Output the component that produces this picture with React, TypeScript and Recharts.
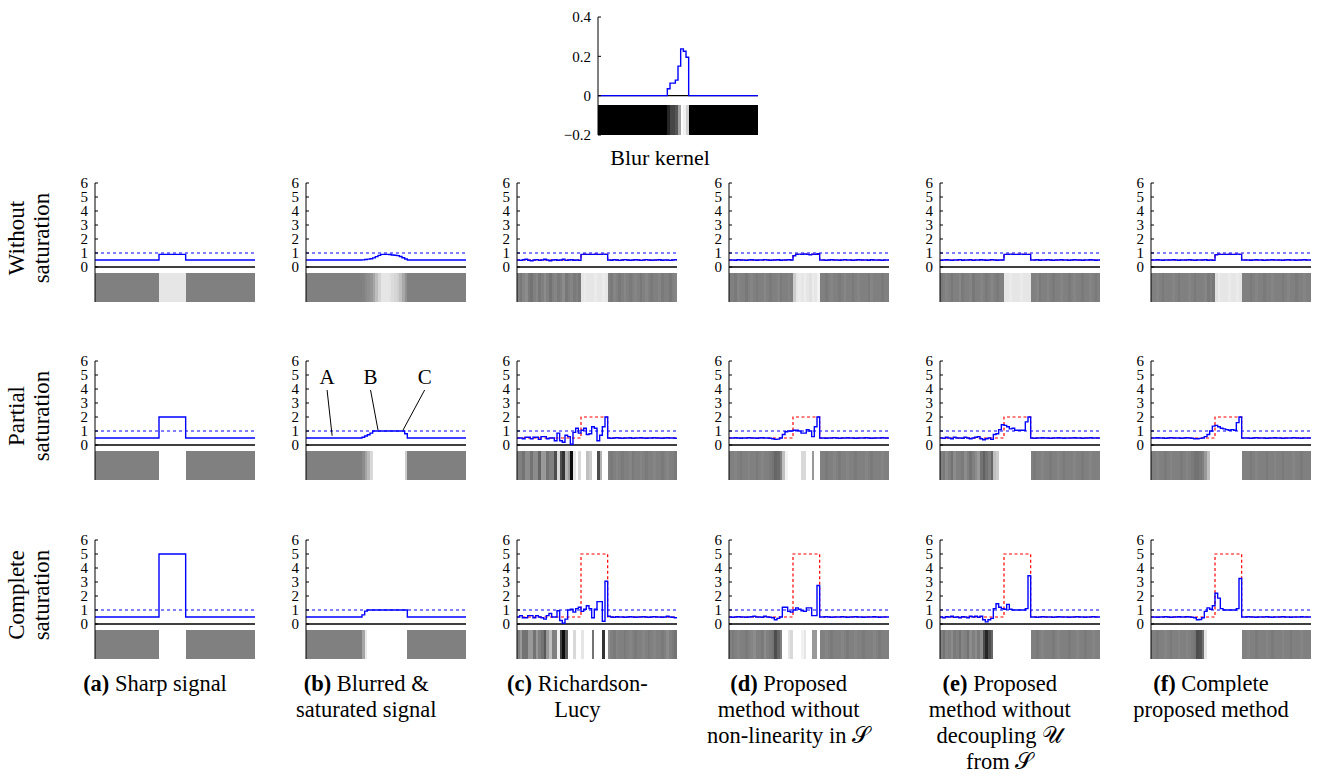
import React from 'react';
import { LineChart, Line, XAxis, YAxis, ReferenceLine, ReferenceArea, ReferenceDot } from 'recharts';

// ---------------- data ----------------
const sampleCount = 60;
const signalTicks = [0, 1, 2, 3, 4, 5, 6];
const kernelTicks = [-0.2, 0, 0.2, 0.4];
const kernelTickLabels = ['\u22120.2', '0', '0.2', '0.4'];
const saturationLevel = 1;

const blurKernel = [
  0, 0, 0, 0, 0, 0, 0, 0, 0, 0, 0, 0, 0, 0, 0, 0, 0, 0, 0, 0, 0, 0, 0, 0, 0, 0,
  0.035, 0.064, 0.064, 0.079, 0.15, 0.238, 0.226, 0.195,
  0, 0, 0, 0, 0, 0, 0, 0, 0, 0, 0, 0, 0, 0, 0, 0, 0, 0, 0, 0, 0, 0, 0, 0, 0, 0,
];

// sharp (ground truth) signals
const sharpNoSat = [
  0.5, 0.5, 0.5, 0.5, 0.5, 0.5, 0.5, 0.5, 0.5, 0.5, 0.5, 0.5, 0.5, 0.5, 0.5, 0.5, 0.5, 0.5, 0.5, 0.5, 0.5, 0.5, 0.5, 0.5,
  0.9, 0.9, 0.9, 0.9, 0.9, 0.9, 0.9, 0.9, 0.9, 0.9,
  0.5, 0.5, 0.5, 0.5, 0.5, 0.5, 0.5, 0.5, 0.5, 0.5, 0.5, 0.5, 0.5, 0.5, 0.5, 0.5, 0.5, 0.5, 0.5, 0.5, 0.5, 0.5, 0.5, 0.5, 0.5, 0.5,
];
const sharpPartial = [
  0.5, 0.5, 0.5, 0.5, 0.5, 0.5, 0.5, 0.5, 0.5, 0.5, 0.5, 0.5, 0.5, 0.5, 0.5, 0.5, 0.5, 0.5, 0.5, 0.5, 0.5, 0.5, 0.5, 0.5,
  2, 2, 2, 2, 2, 2, 2, 2, 2, 2,
  0.5, 0.5, 0.5, 0.5, 0.5, 0.5, 0.5, 0.5, 0.5, 0.5, 0.5, 0.5, 0.5, 0.5, 0.5, 0.5, 0.5, 0.5, 0.5, 0.5, 0.5, 0.5, 0.5, 0.5, 0.5, 0.5,
];
const sharpComplete = [
  0.5, 0.5, 0.5, 0.5, 0.5, 0.5, 0.5, 0.5, 0.5, 0.5, 0.5, 0.5, 0.5, 0.5, 0.5, 0.5, 0.5, 0.5, 0.5, 0.5, 0.5, 0.5, 0.5, 0.5,
  5, 5, 5, 5, 5, 5, 5, 5, 5, 5,
  0.5, 0.5, 0.5, 0.5, 0.5, 0.5, 0.5, 0.5, 0.5, 0.5, 0.5, 0.5, 0.5, 0.5, 0.5, 0.5, 0.5, 0.5, 0.5, 0.5, 0.5, 0.5, 0.5, 0.5, 0.5, 0.5,
];

// blurred & saturated signals
const blurredNoSat = [
  0.5, 0.5, 0.5, 0.5, 0.5, 0.5, 0.5, 0.5, 0.5, 0.5, 0.5, 0.5, 0.5, 0.5, 0.5, 0.5, 0.5, 0.5, 0.5, 0.5, 0.5,
  0.51, 0.54, 0.56, 0.59, 0.65, 0.74, 0.83, 0.9, 0.9, 0.9, 0.89, 0.86, 0.84, 0.81, 0.75, 0.66, 0.57,
  0.5, 0.5, 0.5, 0.5, 0.5, 0.5, 0.5, 0.5, 0.5, 0.5, 0.5, 0.5, 0.5, 0.5, 0.5, 0.5, 0.5, 0.5, 0.5, 0.5, 0.5, 0.5,
];
const blurredPartial = [
  0.5, 0.5, 0.5, 0.5, 0.5, 0.5, 0.5, 0.5, 0.5, 0.5, 0.5, 0.5, 0.5, 0.5, 0.5, 0.5, 0.5, 0.5, 0.5, 0.5, 0.5,
  0.55, 0.64, 0.73, 0.85, 1, 1, 1, 1, 1, 1, 1, 1, 1, 1, 1, 1, 0.8,
  0.5, 0.5, 0.5, 0.5, 0.5, 0.5, 0.5, 0.5, 0.5, 0.5, 0.5, 0.5, 0.5, 0.5, 0.5, 0.5, 0.5, 0.5, 0.5, 0.5, 0.5, 0.5,
];
const blurredComplete = [
  0.5, 0.5, 0.5, 0.5, 0.5, 0.5, 0.5, 0.5, 0.5, 0.5, 0.5, 0.5, 0.5, 0.5, 0.5, 0.5, 0.5, 0.5, 0.5, 0.5, 0.5,
  0.65, 0.92, 1, 1, 1, 1, 1, 1, 1, 1, 1, 1, 1, 1, 1, 1, 1,
  0.5, 0.5, 0.5, 0.5, 0.5, 0.5, 0.5, 0.5, 0.5, 0.5, 0.5, 0.5, 0.5, 0.5, 0.5, 0.5, 0.5, 0.5, 0.5, 0.5, 0.5, 0.5,
];

// (c) Richardson-Lucy
const rlNoSat = [
  0.5, 0.47, 0.52, 0.55, 0.48, 0.45, 0.5, 0.53, 0.47, 0.5, 0.55, 0.5, 0.45, 0.5, 0.52, 0.48, 0.5, 0.55, 0.47, 0.5, 0.52, 0.48, 0.5, 0.47,
  0.9, 0.92, 0.9, 0.9, 0.9, 0.92, 0.9, 0.9, 0.92, 0.9,
  0.5, 0.48, 0.52, 0.5, 0.47, 0.5, 0.53, 0.5, 0.48, 0.5, 0.52, 0.5, 0.47, 0.5, 0.53, 0.5, 0.48, 0.5, 0.5, 0.52, 0.48, 0.5, 0.5, 0.47, 0.5, 0.52,
];
const rlPartial = [
  0.5, 0.5, 0.45, 0.55, 0.55, 0.45, 0.55, 0.55, 0.4, 0.6, 0.6, 0.45, 0.5, 0.5, 0.3, 0.85, 0.3, 0.2, 0.7, 0.6,
  0.05, 0.9, 1.2, 0.85, 1.05, 1.2, 0.75, 0.8, 1.3, 1.2, 0.3, 0.7, 1.3, 2.0,
  0.5, 0.48, 0.5, 0.52, 0.5, 0.48, 0.5, 0.5, 0.52, 0.48, 0.5, 0.5, 0.52, 0.5, 0.48, 0.5, 0.5, 0.52, 0.5, 0.5, 0.48, 0.5, 0.52, 0.5, 0.5, 0.48,
];
const rlComplete = [
  0.5, 0.6, 0.45, 0.45, 0.6, 0.6, 0.45, 0.6, 0.5, 0.45, 0.35, 0.6, 0.75, 0.5, 0.5, 0.95, 0.25, 0.05, 0.35, 1.0,
  1.05, 0.85, 1.1, 1.2, 0.9, 1.05, 1.3, 1.1, 0.45, 1.05, 1.6, 1.6, 0.2, 3.05,
  0.55, 0.5, 0.48, 0.52, 0.5, 0.5, 0.48, 0.5, 0.52, 0.5, 0.48, 0.5, 0.5, 0.52, 0.5, 0.48, 0.5, 0.52, 0.5, 0.5, 0.48, 0.5, 0.55, 0.5, 0.48, 0.45,
];

// (d) proposed without non-linearity in S
const noNonlinNoSat = [
  0.5, 0.5, 0.48, 0.52, 0.5, 0.5, 0.47, 0.5, 0.52, 0.5, 0.48, 0.5, 0.5, 0.53, 0.5, 0.48, 0.5, 0.5, 0.52, 0.48, 0.5, 0.5, 0.52, 0.5,
  0.8, 0.9, 0.92, 0.9, 0.93, 0.9, 0.88, 0.92, 0.9, 0.95,
  0.5, 0.5, 0.48, 0.5, 0.52, 0.5, 0.5, 0.48, 0.5, 0.53, 0.5, 0.5, 0.48, 0.5, 0.52, 0.5, 0.5, 0.5, 0.48, 0.52, 0.5, 0.5, 0.5, 0.48, 0.5, 0.5,
];
const noNonlinPartial = [
  0.5, 0.5, 0.52, 0.5, 0.48, 0.5, 0.5, 0.52, 0.5, 0.5, 0.48, 0.5, 0.52, 0.5, 0.5, 0.48, 0.45, 0.4, 0.42, 0.5,
  0.75, 0.95, 1.0, 1.0, 1.05, 1.05, 1.0, 0.85, 0.85, 1.1, 1.0, 0.6, 1.3, 2.0,
  0.5, 0.5, 0.48, 0.5, 0.5, 0.52, 0.5, 0.48, 0.5, 0.5, 0.52, 0.5, 0.5, 0.48, 0.5, 0.5, 0.5, 0.52, 0.5, 0.48, 0.5, 0.5, 0.5, 0.52, 0.5, 0.5,
];
const noNonlinComplete = [
  0.5, 0.48, 0.5, 0.52, 0.5, 0.5, 0.48, 0.5, 0.52, 0.55, 0.5, 0.5, 0.48, 0.55, 0.5, 0.48, 0.45, 0.3, 0.4, 0.5,
  1.2, 1.2, 0.9, 0.85, 1.0, 1.15, 1.05, 0.95, 0.9, 1.15, 1.15, 0.6, 0.6, 2.75,
  0.5, 0.5, 0.52, 0.5, 0.48, 0.5, 0.5, 0.5, 0.52, 0.5, 0.48, 0.5, 0.5, 0.52, 0.5, 0.5, 0.48, 0.5, 0.5, 0.5, 0.52, 0.5, 0.48, 0.5, 0.5, 0.5,
];

// (e) proposed without decoupling U from S
const noDecoupleNoSat = [
  0.48, 0.5, 0.52, 0.5, 0.47, 0.5, 0.5, 0.53, 0.48, 0.5, 0.5, 0.52, 0.47, 0.5, 0.5, 0.52, 0.5, 0.48, 0.5, 0.53, 0.5, 0.48, 0.5, 0.5,
  0.9, 0.9, 0.92, 0.9, 0.9, 0.9, 0.92, 0.9, 0.9, 0.9,
  0.5, 0.5, 0.52, 0.48, 0.5, 0.5, 0.52, 0.5, 0.48, 0.5, 0.5, 0.52, 0.5, 0.5, 0.48, 0.5, 0.52, 0.5, 0.5, 0.48, 0.5, 0.5, 0.52, 0.5, 0.48, 0.5,
];
const noDecouplePartial = [
  0.5, 0.48, 0.55, 0.5, 0.45, 0.55, 0.5, 0.5, 0.48, 0.55, 0.5, 0.45, 0.5, 0.55, 0.6, 0.45, 0.38, 0.45, 0.5, 0.4,
  0.75, 0.8, 1.1, 1.45, 1.4, 1.3, 1.15, 1.2, 1.05, 1.05, 1.05, 1.05, 1.65, 2.0,
  0.5, 0.48, 0.5, 0.5, 0.52, 0.5, 0.5, 0.48, 0.5, 0.5, 0.52, 0.5, 0.48, 0.5, 0.5, 0.5, 0.52, 0.5, 0.5, 0.48, 0.5, 0.5, 0.52, 0.5, 0.5, 0.5,
];
const noDecoupleComplete = [
  0.5, 0.45, 0.52, 0.5, 0.55, 0.48, 0.5, 0.45, 0.52, 0.5, 0.45, 0.55, 0.5, 0.55, 0.48, 0.55, 0.3, 0.15, 0.3, 0.4,
  1.1, 1.45, 1.2, 1.1, 1.05, 1.4, 1.05, 1.0, 1.0, 1.0, 1.0, 1.0, 1.1, 3.45,
  0.5, 0.5, 0.48, 0.5, 0.52, 0.5, 0.5, 0.5, 0.48, 0.5, 0.52, 0.5, 0.5, 0.5, 0.48, 0.5, 0.5, 0.52, 0.5, 0.5, 0.48, 0.5, 0.5, 0.52, 0.5, 0.5,
];

// (f) complete proposed method
const proposedNoSat = [
  0.5, 0.5, 0.52, 0.5, 0.48, 0.5, 0.5, 0.5, 0.52, 0.5, 0.48, 0.5, 0.5, 0.5, 0.52, 0.5, 0.48, 0.5, 0.5, 0.5, 0.52, 0.48, 0.5, 0.47,
  0.88, 0.92, 0.9, 0.9, 0.9, 0.92, 0.9, 0.9, 0.92, 0.9,
  0.5, 0.5, 0.5, 0.48, 0.5, 0.52, 0.5, 0.5, 0.48, 0.5, 0.5, 0.52, 0.5, 0.5, 0.5, 0.48, 0.5, 0.52, 0.5, 0.5, 0.48, 0.5, 0.5, 0.52, 0.5, 0.5,
];
const proposedPartial = [
  0.5, 0.5, 0.52, 0.5, 0.5, 0.48, 0.5, 0.52, 0.5, 0.5, 0.5, 0.48, 0.5, 0.52, 0.5, 0.48, 0.45, 0.45, 0.47, 0.5,
  0.6, 0.75, 1.0, 1.35, 1.4, 1.3, 1.2, 1.15, 1.1, 1.05, 1.1, 1.05, 1.6, 2.0,
  0.5, 0.5, 0.5, 0.48, 0.5, 0.52, 0.5, 0.5, 0.5, 0.48, 0.5, 0.5, 0.52, 0.5, 0.5, 0.48, 0.5, 0.5, 0.5, 0.52, 0.5, 0.5, 0.48, 0.5, 0.5, 0.5,
];
const proposedComplete = [
  0.5, 0.5, 0.48, 0.5, 0.5, 0.52, 0.5, 0.48, 0.5, 0.5, 0.52, 0.5, 0.5, 0.52, 0.5, 0.48, 0.45, 0.3, 0.32, 0.45,
  0.9, 1.15, 1.05, 1.3, 2.2, 1.85, 1.1, 1.0, 1.0, 1.0, 1.0, 1.0, 1.1, 3.25,
  0.5, 0.5, 0.52, 0.5, 0.5, 0.48, 0.5, 0.5, 0.5, 0.52, 0.5, 0.48, 0.5, 0.5, 0.5, 0.52, 0.5, 0.5, 0.48, 0.5, 0.5, 0.5, 0.52, 0.5, 0.5, 0.5,
];

const rowLabels = [
  ['Without', 'saturation'],
  ['Partial', 'saturation'],
  ['Complete', 'saturation'],
];

const captions = [
  { tag: '(a)', first: ' Sharp signal', rest: [] as string[] },
  { tag: '(b)', first: ' Blurred &', rest: ['saturated signal'] },
  { tag: '(c)', first: ' Richardson-', rest: ['Lucy'] },
  { tag: '(d)', first: ' Proposed', rest: ['method without', 'non-linearity in \u{1D4AE}'] },
  { tag: '(e)', first: ' Proposed', rest: ['method without', 'decoupling \u{1D4B0}', 'from \u{1D4AE}'] },
  { tag: '(f)', first: ' Complete', rest: ['proposed method'] },
];

// annotations in panel (b), partial saturation (data coordinates)
const annotationLabels = ['A', 'B', 'C'];
const annotationText = [
  { x: 7.9, y: 4.88 },
  { x: 24.2, y: 4.88 },
  { x: 44.5, y: 4.88 },
];
const annotationLeader = [
  [{ x: 7.9, y: 3.93 }, { x: 9.8, y: 0.66 }],
  [{ x: 24.2, y: 3.93 }, { x: 27.0, y: 1.07 }],
  [{ x: 44.5, y: 3.93 }, { x: 36.4, y: 1.07 }],
];

const panelGrid = [
  [
    { sig: sharpNoSat }, { sig: blurredNoSat },
    { sig: rlNoSat, gt: sharpNoSat }, { sig: noNonlinNoSat, gt: sharpNoSat },
    { sig: noDecoupleNoSat, gt: sharpNoSat }, { sig: proposedNoSat, gt: sharpNoSat },
  ],
  [
    { sig: sharpPartial }, { sig: blurredPartial, notes: true },
    { sig: rlPartial, gt: sharpPartial }, { sig: noNonlinPartial, gt: sharpPartial },
    { sig: noDecouplePartial, gt: sharpPartial }, { sig: proposedPartial, gt: sharpPartial },
  ],
  [
    { sig: sharpComplete }, { sig: blurredComplete },
    { sig: rlComplete, gt: sharpComplete }, { sig: noNonlinComplete, gt: sharpComplete },
    { sig: noDecoupleComplete, gt: sharpComplete }, { sig: proposedComplete, gt: sharpComplete },
  ],
];

// ---------------- layout / style ----------------
const SERIF = '"Liberation Serif", "DejaVu Serif", serif';
const YW = 40;
const MT = 10;
const MB = 2;
const MR = 4;
const PLOT_W = 160;
const UNIT = 14;
const Y_MIN = -2.5;
const Y_MAX = 6;
const STRIP_TOP = -0.43;
const colAxisX = [95, 306.2, 517.4, 728.6, 939.8, 1151];
const rowZeroY = [266.7, 445, 624];

const grayLevel = (v: number) => Math.round(255 * Math.max(0, Math.min(1, v)));
const grayCss = (c: number) => `rgb(${c},${c},${c})`;

// group consecutive samples with equal grey into runs so the strip has no seams
const stripRuns = (vals: number[]) => {
  const runs: { x1: number; x2: number; c: number }[] = [];
  vals.forEach((v, i) => {
    const c = grayLevel(v);
    const last = runs[runs.length - 1];
    if (last && last.c === c) last.x2 = i + 1;
    else runs.push({ x1: i, x2: i + 1, c });
  });
  return runs;
};

const makeTick = (fmt: (v: number) => string) => (props: any) => {
  const { x, y, payload } = props;
  return (
    <g>
      <line x1={x + 7} x2={x + 10} y1={y} y2={y} stroke="#000" strokeWidth={1} />
      <text x={x} y={y} dy="0.36em" textAnchor="end" fontSize={15} fontFamily={SERIF} fill="#000">
        {fmt(payload.value)}
      </text>
    </g>
  );
};

const signalTick = makeTick((v) => String(v));
const kernelTick = makeTick((v) => kernelTickLabels[kernelTicks.indexOf(v)] ?? String(v));

function SignalPanel({ sig, gt, axisX, zeroY, notes }: { sig: number[]; gt?: number[]; axisX: number; zeroY: number; notes?: boolean }) {
  const rows = sig.map((v, i) => ({ x: i, sig: v, gt: gt ? gt[i] : null }));
  rows.push({ x: sig.length, sig: sig[sig.length - 1], gt: gt ? gt[gt.length - 1] : null });
  const plotH = (Y_MAX - Y_MIN) * UNIT;
  const runs = stripRuns(sig);
  return (
    <div style={{ position: 'absolute', left: axisX - YW, top: zeroY - Y_MAX * UNIT - MT }}>
      <LineChart width={YW + PLOT_W + MR} height={MT + plotH + MB} data={rows} margin={{ top: MT, right: MR, bottom: MB, left: 0 }}>
        <XAxis dataKey="x" type="number" domain={[0, sampleCount]} hide allowDataOverflow />
        <YAxis
          type="number"
          domain={[Y_MIN, Y_MAX]}
          ticks={signalTicks}
          interval={0}
          width={YW}
          tickSize={0}
          tickMargin={7}
          tickLine={false}
          axisLine={{ stroke: '#000', strokeWidth: 1 }}
          tick={signalTick}
          allowDataOverflow
        />
        {runs.map((r, i) => (
          <ReferenceArea
            key={'s' + i}
            x1={r.x1}
            x2={r.x2}
            y1={Y_MIN}
            y2={STRIP_TOP}
            fill={grayCss(r.c)}
            fillOpacity={1}
            stroke="none"
            shapeRendering="crispEdges"
            ifOverflow="visible"
          />
        ))}
        <ReferenceLine y={0} stroke="#000" strokeWidth={1.3} />
        <ReferenceLine y={saturationLevel} stroke="#0000ff" strokeWidth={1.2} strokeDasharray="3 3" />
        {gt && (
          <Line dataKey="gt" type="stepAfter" stroke="#ff0000" strokeWidth={1.2} strokeDasharray="3 2.5" dot={false} isAnimationActive={false} />
        )}
        <Line dataKey="sig" type="stepAfter" stroke="#0000ff" strokeWidth={1.4} dot={false} isAnimationActive={false} />
        {notes &&
          annotationLabels.map((lab, k) => (
            <ReferenceLine key={'l' + k} segment={annotationLeader[k]} stroke="#000" strokeWidth={1} ifOverflow="visible" />
          ))}
        {notes &&
          annotationLabels.map((lab, k) => (
            <ReferenceDot
              key={'t' + k}
              x={annotationText[k].x}
              y={annotationText[k].y}
              r={0}
              fill="none"
              stroke="none"
              ifOverflow="visible"
              label={{ value: lab, position: 'center', fontSize: 21, fontFamily: SERIF, fill: '#000' }}
            />
          ))}
      </LineChart>
    </div>
  );
}

function KernelPanel() {
  const rows = blurKernel.map((v, i) => ({ x: i, k: v }));
  rows.push({ x: blurKernel.length, k: blurKernel[blurKernel.length - 1] });
  const peak = Math.max(...blurKernel);
  const runs = stripRuns(blurKernel.map((v) => v / peak));
  const axisX = 597.7;
  const topY = 17;
  const plotH = 118;
  const mb = 12;
  return (
    <div style={{ position: 'absolute', left: axisX - YW, top: topY - MT }}>
      <LineChart width={YW + PLOT_W + MR} height={MT + plotH + mb} data={rows} margin={{ top: MT, right: MR, bottom: mb, left: 0 }}>
        <XAxis dataKey="x" type="number" domain={[0, sampleCount]} hide allowDataOverflow />
        <YAxis
          type="number"
          domain={[-0.2, 0.4]}
          ticks={kernelTicks}
          interval={0}
          width={YW}
          tickSize={0}
          tickMargin={7}
          tickLine={false}
          axisLine={{ stroke: '#000', strokeWidth: 1 }}
          tick={kernelTick}
          allowDataOverflow
        />
        {runs.map((r, i) => (
          <ReferenceArea
            key={'k' + i}
            x1={r.x1}
            x2={r.x2}
            y1={-0.2}
            y2={-0.046}
            fill={grayCss(r.c)}
            fillOpacity={1}
            stroke="none"
            shapeRendering="crispEdges"
            ifOverflow="visible"
          />
        ))}
        <ReferenceLine y={0} stroke="#000" strokeWidth={1.3} />
        <Line dataKey="k" type="stepAfter" stroke="#0000ff" strokeWidth={1.4} dot={false} isAnimationActive={false} />
      </LineChart>
    </div>
  );
}

export default function App() {
  return (
    <div style={{ position: 'absolute', left: 0, top: 0, width: 1317, height: 776, background: '#fff', overflow: 'hidden', fontFamily: SERIF }}>
      <KernelPanel />
      <div style={{ position: 'absolute', left: 560, top: 144, width: 200, textAlign: 'center', fontSize: 22, lineHeight: '28px', color: '#000', fontFamily: SERIF }}>
        Blur kernel
      </div>

      {panelGrid.map((row, r) =>
        row.map((p, c) => (
          <SignalPanel key={r + '-' + c} sig={p.sig} gt={(p as any).gt} notes={(p as any).notes} axisX={colAxisX[c]} zeroY={rowZeroY[r]} />
        ))
      )}

      {rowLabels.map((lines, r) => (
        <div
          key={'rl' + r}
          style={{
            position: 'absolute',
            left: 30 - 80,
            top: rowZeroY[r] - 29 - 26,
            width: 160,
            height: 52,
            transform: 'rotate(-90deg)',
            textAlign: 'center',
            fontSize: 23,
            lineHeight: '25px',
            color: '#000',
          }}
        >
          <div>{lines[0]}</div>
          <div>{lines[1]}</div>
        </div>
      ))}

      {captions.map((cap, c) => (
        <div
          key={'cap' + c}
          style={{
            position: 'absolute',
            left: colAxisX[c] + 60 - 120,
            top: 671,
            width: 240,
            textAlign: 'center',
            fontSize: 22.5,
            lineHeight: '26px',
            color: '#000',
          }}
        >
          <div>
            <b>{cap.tag}</b>
            {cap.first}
          </div>
          {cap.rest.map((l, i) => (
            <div key={i}>{l}</div>
          ))}
        </div>
      ))}
    </div>
  );
}
